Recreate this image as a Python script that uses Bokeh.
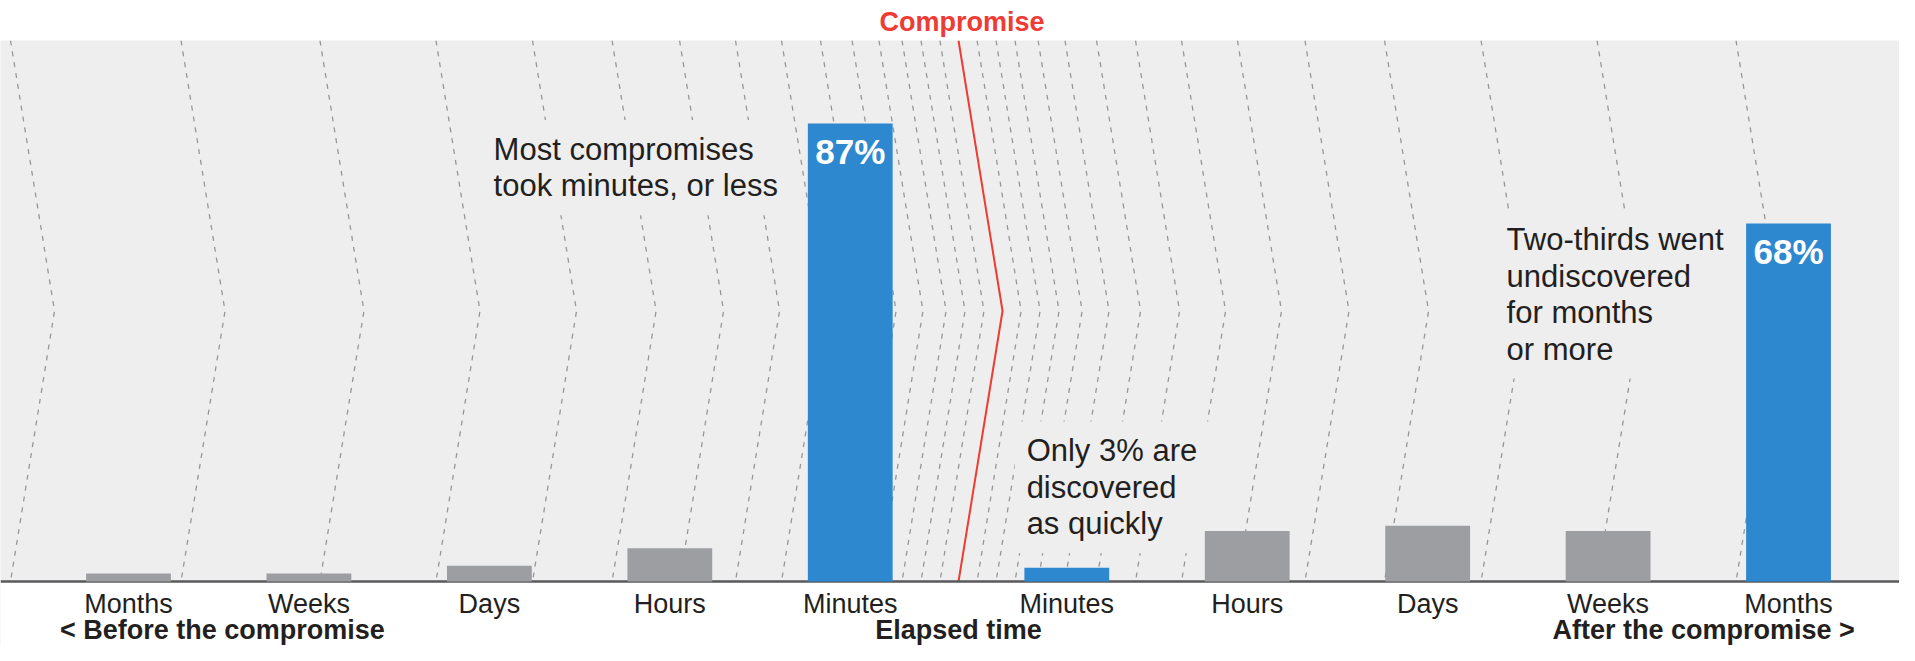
from bokeh.plotting import figure
from bokeh.models import Range1d, Label, ColumnDataSource, Span, BoxAnnotation
from bokeh.core.properties import value
from bokeh.embed import file_html
from bokeh.resources import INLINE

# ---- data ----
categories = ["Months", "Weeks", "Days", "Hours", "Minutes",
              "Minutes", "Hours", "Days", "Weeks", "Months"]
phase = ["before"] * 5 + ["after"] * 5
values = [1.5, 1.5, 3.0, 6.3, 87.0, 2.6, 9.6, 10.6, 9.6, 68.0]
highlight = [False, False, False, False, True, True, False, False, False, True]
phase_labels = ["< Before the compromise", "Elapsed time", "After the compromise >"]
# decorative chevron guide lines: distance from the compromise line (category-step / 10)
guide_offsets = [1.03, 2.08, 3.13, 4.41, 5.90, 7.65, 9.81, 12.36, 15.46,
                 19.20, 23.61, 28.96, 35.39, 43.09, 52.54]

FONT = "Liberation Sans"
DARK = "#231f20"
BLUE = "#2e88cf"
GREY = "#9d9ea1"
BG = "#eeeeee"
RED = "#ee3b33"

STEP = 10
GAP = 2
YMAX = 102.78
YMIN = -12.16          # white strip below the baseline that holds the labels
xs_pos = [STEP * i + (GAP if ph == "after" else 0) for i, ph in enumerate(phase)]
center = (xs_pos[4] + xs_pos[5]) / 2
vertex = 2.44
phase_pos = [5.2, center, 87.3]

p = figure(width=1899, height=645,
           x_range=Range1d(-7.094, 98.15), y_range=Range1d(YMIN, YMAX),
           output_backend="svg", toolbar_location=None,
           min_border_left=0, min_border_right=0,
           min_border_top=40, min_border_bottom=0,
           x_axis_location=None, y_axis_location=None)
p.background_fill_color = BG
p.border_fill_color = "white"
p.outline_line_color = None
p.grid.visible = False

# white strip under the baseline
p.add_layout(BoxAnnotation(top=0, fill_color="white", fill_alpha=1,
                           line_color=None, level="underlay"))

# title = "Compromise" marker above the red line
p.title.text = "Compromise"
p.title.text_color = RED
p.title.text_font = FONT
p.title.text_font_style = "bold"
p.title.text_font_size = "27px"
p.title.align = "left"
p.title.offset = 879
p.title.standoff = 7

# chevron guide lines
gx, gy = [], []
for d in guide_offsets:
    for x0 in (center - d, center + d):
        gx.append([x0, x0 + vertex, x0])
        gy.append([YMAX, YMAX / 2, 0])
p.multi_line(gx, gy, line_color="#979797", line_width=1.3, line_dash="5 6")

# compromise line
p.line([center, center + vertex, center], [YMAX, YMAX / 2, 0],
       line_color=RED, line_width=2)

src = ColumnDataSource(dict(
    x=xs_pos, top=values, cat=categories, zero=[0] * len(values),
    color=[BLUE if h else GREY for h in highlight],
    label=[f"{v:.0f}%" if (h and v >= 50) else "" for v, h in zip(values, highlight)],
))
p.vbar(x="x", top="top", width=4.7, bottom=0, fill_color="color",
       line_color=None, source=src, level="overlay")
p.text(x="x", y="top", text="label", source=src, text_align="center",
       text_baseline="alphabetic", y_offset=28, text_color="white",
       text_font=value(FONT), text_font_style="bold", text_font_size="35px",
       level="overlay")

# baseline
p.add_layout(Span(location=0, dimension="width", line_color="#58595b",
                  line_width=2.5))

# category labels under the baseline
p.text(x="x", y="zero", text="cat", source=src, text_align="center",
       text_baseline="alphabetic", y_offset=23, text_color=DARK,
       text_font=value(FONT), text_font_size="27px")

# phase labels
p.text(x=phase_pos, y=[0] * len(phase_pos), text=phase_labels,
       text_align="center", text_baseline="alphabetic", y_offset=49,
       text_color=DARK, text_font=value(FONT), text_font_style="bold",
       text_font_size="27px")

def note(text, x, y):
    p.add_layout(Label(x=x, y=y, text=text, text_font=FONT, text_color=DARK,
                       text_font_size="31px", text_align="left",
                       text_baseline="top", text_line_height=1.04,
                       background_fill_color=BG, padding=12))

note("Most compromises\ntook minutes, or less", 19.57, 87.7)
note("Two-thirds went\nundiscovered\nfor months\nor more", 75.71, 70.5)
note("Only 3% are\ndiscovered\nas quickly", 49.11, 30.4)

open("out.html", "w").write(file_html(p, INLINE))
